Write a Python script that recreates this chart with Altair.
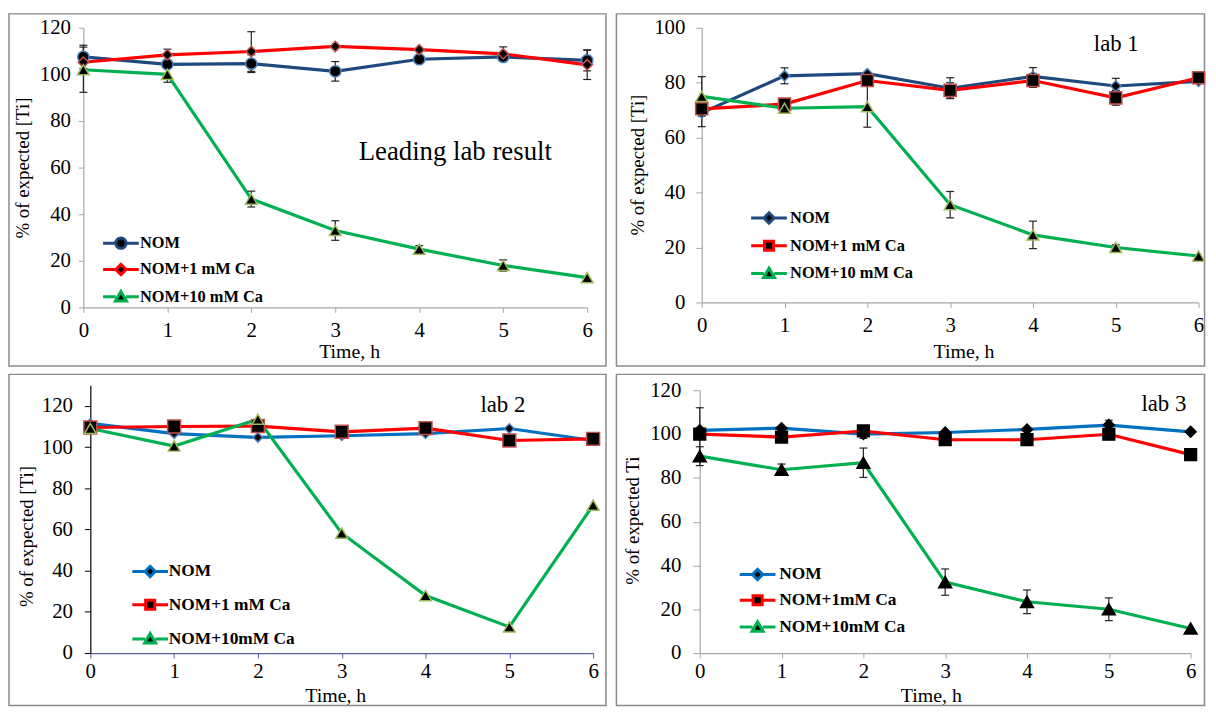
import altair as alt
import pandas as pd

TIME = [0, 1, 2, 3, 4, 5, 6]

# ---- Leading lab result ----
A_LABELS = ["NOM", "NOM+1 mM Ca", "NOM+10 mM Ca"]
A_NOM = [107.5, 104.3, 104.6, 101.3, 106.5, 107.5, 106.0]
A_CA1 = [105.2, 108.4, 109.8, 112.0, 110.6, 108.8, 104.1]
A_CA10 = [102.0, 100.0, 46.5, 33.0, 25.0, 18.0, 12.8]
A_NOM_ERR = [5.0, None, 3.8, 4.2, None, None, 4.5]
A_CA1_ERR = [None, 2.4, 8.5, None, None, 3.0, 6.3]
A_CA10_ERR = [9.7, 3.4, 3.4, 4.2, 1.5, 2.4, None]

# ---- lab 1 ----
B_LABELS = ["NOM", "NOM+1 mM Ca", "NOM+10 mM Ca"]
B_NOM = [69.0, 82.5, 83.3, 78.0, 82.3, 78.8, 80.5]
B_CA1 = [70.5, 72.2, 80.8, 77.2, 80.8, 74.5, 81.8]
B_CA10 = [75.0, 70.7, 71.3, 35.6, 24.6, 20.0, 16.9]
B_NOM_ERR = [5.0, 2.9, None, 3.8, 3.2, 2.8, None]
B_CA1_ERR = [None, None, None, 2.8, 2.5, 2.7, None]
B_CA10_ERR = [7.2, None, 7.5, 4.8, 5.0, 1.0, None]

# ---- lab 2 ----
C_LABELS = ["NOM", "NOM+1 mM Ca", "NOM+10mM Ca"]
C_NOM = [111.5, 106.5, 104.7, 105.5, 106.5, 109.0, 103.2]
C_CA1 = [109.5, 110.0, 110.2, 107.4, 109.2, 103.2, 104.0]
C_CA10 = [109.0, 100.5, 113.5, 58.2, 27.9, 12.7, 71.8]

# ---- lab 3 ----
D_LABELS = ["NOM", "NOM+1mM Ca", "NOM+10mM Ca"]
D_NOM = [101.7, 102.7, 100.0, 100.7, 102.1, 104.1, 101.0]
D_CA1 = [100.0, 98.6, 101.4, 97.4, 97.4, 99.9, 90.6]
D_CA10 = [89.9, 83.7, 86.9, 32.4, 23.4, 20.0, 11.2]
D_NOM_ERR = [None, None, 2.0, None, None, 2.2, None]
D_CA1_ERR = [12.0, None, None, None, None, None, None]
D_CA10_ERR = [4.3, 2.6, 6.7, 6.0, 5.4, 5.2, None]

NAVY, BLUE, RED, GREEN = "#1f497d", "#0070c0", "#ff0000", "#00b050"
OUT_BLUE, OUT_RED, OUT_GREEN = "#4f81bd", "#c0504d", "#9bbb59"
FONT = "Liberation Serif"

# legend glyphs: line stub + marker (unit space)
L = "M-9,0H-2.6M2.6,0H9"
P_CIRCLE = L + "M2.6,0A2.6,2.6,0,1,1,-2.6,0A2.6,2.6,0,1,1,2.6,0Z"
P_DIAMOND = L + "M0,-2.6L2.6,0L0,2.6L-2.6,0Z"
P_SQUARE = L + "M-2.3,-2.3H2.3V2.3H-2.3Z"
P_TRIANGLE = L + "M0,-2.7L2.8,2.1H-2.8Z"


def long_df(labels, series):
    rows = []
    for lab, vals in zip(labels, series):
        for t, v in zip(TIME, vals):
            rows.append({"time": t, "value": v, "series": lab})
    return pd.DataFrame(rows)


def err_df(series, errs):
    rows = []
    for vals, ee in zip(series, errs):
        for t, v, e in zip(TIME, vals, ee):
            if e is not None:
                rows.append({"time": t, "lo": v - e, "hi": v + e})
    return pd.DataFrame(rows, columns=["time", "lo", "hi"])


def panel(p):
    df = long_df(p["labels"], p["series"])
    xs = alt.Scale(domain=[0, 6], nice=False, zero=False, range=[p["x0"], p["w"]])
    ys = alt.Scale(domain=[0, p["ymax"]], nice=False, zero=True, range=[p["h"], p["y0"]])
    xax = alt.Axis(values=TIME, format="d", title="Time, h", grid=False,
                   domainColor=p["xdom"], tickColor=p["xdom"], tickSize=5,
                   domainWidth=1.2, labelPadding=p["xlp"], labelFont=FONT, labelFontSize=21,
                   labelColor="black", titleFont=FONT, titleFontSize=20,
                   titleFontWeight="normal", titleColor="black",
                   titleX=p["xtx"], titleY=p["xty"], titleBaseline="middle",
                   titleAlign="center", labelFlush=False)
    yax = alt.Axis(values=p["yticks"], title=p["ytitle"], grid=False, offset=-p["x0"],
                   domainColor=p["ydom"], tickColor=p["ydom"], tickSize=p["ytick"],
                   domainWidth=1.2, labelPadding=p["ylp"], labelFont=FONT, labelFontSize=21,
                   labelColor="black", titleFont=FONT, titleFontSize=19,
                   titleFontWeight="normal", titleColor="black",
                   titleX=p["ytx"], titleY=p["yty"], titleBaseline="middle",
                   titleAlign="center", titleAngle=270, labelFlush=False)
    X = alt.X("time:Q", scale=xs, axis=xax)
    base = alt.Chart(df).encode(x=X, y=alt.Y("value:Q", scale=ys, axis=yax))

    fx, fx2, fy, fy2 = p["frame"]
    layers = [
        alt.Chart(pd.DataFrame({"k": [0]})).mark_rect(
            fillOpacity=0, stroke="#8a8a8a", strokeWidth=1.5
        ).encode(x=alt.value(fx), x2=alt.value(fx2), y=alt.value(fy), y2=alt.value(fy2))
    ]
    for lab, col in zip(p["labels"], p["lines"]):
        layers.append(base.transform_filter(alt.datum.series == lab)
                      .mark_line(color=col, strokeWidth=3.2))
    if p.get("errs"):
        e = err_df(p["series"], p["errs"])
        eb = alt.Chart(e)
        layers.append(eb.mark_rule(color="#222222", strokeWidth=1.2).encode(
            x=X, y=alt.Y("lo:Q", scale=ys, axis=yax), y2="hi:Q"))
        for f in ["lo", "hi"]:
            layers.append(eb.mark_tick(color="#222222", orient="horizontal", size=8,
                                       thickness=1.2, opacity=1).encode(
                x=X, y=alt.Y(f + ":Q", scale=ys, axis=yax)))
    for lab, shp, sz, out in zip(p["labels"], p["shapes"], p["sizes"], p["outlines"]):
        layers.append(base.transform_filter(alt.datum.series == lab).mark_point(
            shape=shp, size=sz, filled=True, fill="black", stroke=out,
            strokeWidth=1.5, opacity=1))
    leg = alt.Legend(orient="none", legendX=p["lx"], legendY=p["ly"], title=None,
                     direction="vertical", labelFont=FONT, labelFontWeight="bold",
                     labelFontSize=p["lfs"], labelColor="black", symbolSize=16,
                     symbolStrokeWidth=3, symbolOffset=p["so"], labelOffset=p["lo"],
                     rowPadding=p["lrp"], padding=0, symbolOpacity=1)
    layers.append(base.transform_filter("false").mark_point(
        filled=False, fill="black", fillOpacity=1, opacity=1, strokeWidth=3).encode(
        color=alt.Color("series:N", scale=alt.Scale(domain=p["labels"], range=p["lines"]), legend=leg),
        shape=alt.Shape("series:N", scale=alt.Scale(domain=p["labels"], range=p["lshapes"]), legend=leg)))
    tx, ty = p["tpos"]
    layers.append(alt.Chart(pd.DataFrame({"t": [p["text"]]})).mark_text(
        font=FONT, fontSize=p["tfs"], color="black", align="center", baseline="middle"
    ).encode(x=alt.value(tx), y=alt.value(ty), text="t:N"))
    return alt.layer(*layers).properties(width=p["w"], height=p["h"])


GRAY = "#a6a6a6"
PA = dict(labels=A_LABELS, series=[A_NOM, A_CA1, A_CA10], errs=[A_NOM_ERR, A_CA1_ERR, A_CA10_ERR],
          lines=[NAVY, RED, GREEN], outlines=[OUT_BLUE, OUT_RED, OUT_GREEN],
          shapes=["circle", "diamond", "triangle-up"], sizes=[130, 110, 140],
          lshapes=[P_CIRCLE, P_DIAMOND, P_TRIANGLE],
          w=508, h=282, x0=0, y0=0, frame=(-75, 527, -14, 341), ymax=120,
          yticks=[0, 20, 40, 60, 80, 100, 120],
          ytitle="% of expected [Ti]", ytx=-61, yty=141, xtx=268, xty=44, xlp=7,
          xdom=GRAY, ydom=GRAY, ytick=5, ylp=8,
          lx=18, ly=209, lrp=3.5, so=11.6, lo=11, lfs=16.5,
          text="Leading lab result", tpos=(375, 125), tfs=27)
PB = dict(labels=B_LABELS, series=[B_NOM, B_CA1, B_CA10], errs=[B_NOM_ERR, B_CA1_ERR, B_CA10_ERR],
          lines=[NAVY, RED, GREEN], outlines=[OUT_BLUE, OUT_RED, OUT_GREEN],
          shapes=["diamond", "square", "triangle-up"], sizes=[110, 150, 140],
          lshapes=[P_DIAMOND, P_SQUARE, P_TRIANGLE],
          w=501, h=277, x0=0, y0=0, frame=(-86, 507, -14, 341), ymax=100,
          yticks=[0, 20, 40, 60, 80, 100],
          ytitle="% of expected [Ti]", ytx=-65, yty=138, xtx=264, xty=49, xlp=7,
          xdom=GRAY, ydom=GRAY, ytick=6, ylp=11,
          lx=48, ly=183.5, lrp=5, so=11.6, lo=13, lfs=16.5,
          text="lab 1", tpos=(418, 16), tfs=23)
PC = dict(labels=C_LABELS, series=[C_NOM, C_CA1, C_CA10], errs=None,
          lines=[BLUE, RED, GREEN], outlines=[OUT_BLUE, OUT_RED, OUT_GREEN],
          shapes=["diamond", "square", "triangle-up"], sizes=[90, 170, 140],
          lshapes=[P_DIAMOND, P_SQUARE, P_TRIANGLE],
          w=514, h=270, x0=7, y0=0, frame=(-75, 527, -11, 323), ymax=130,
          yticks=[0, 20, 40, 60, 80, 100, 120],
          ytitle="% of expected [Ti]", ytx=-64, yty=152, xtx=254, xty=42.5, xlp=3,
          xdom="#5b5ba8", ydom="black", ytick=6, ylp=12,
          lx=47, ly=179, lrp=11.5, so=11.6, lo=10, lfs=17.5,
          text="lab 2", tpos=(423, 20), tfs=23)
PD = dict(labels=D_LABELS, series=[D_NOM, D_CA1, D_CA10], errs=[D_NOM_ERR, D_CA1_ERR, D_CA10_ERR],
          lines=[BLUE, RED, GREEN], outlines=["black", "black", "black"],
          shapes=["diamond", "square", "triangle-up"], sizes=[120, 140, 170],
          lshapes=[P_DIAMOND, P_SQUARE, P_TRIANGLE],
          w=495, h=270, x0=0, y0=5, frame=(-84, 509, -11, 323), ymax=120,
          yticks=[0, 20, 40, 60, 80, 100, 120],
          ytitle="% of expected Ti", ytx=-68, yty=136, xtx=233, xty=42.5, xlp=3,
          xdom=GRAY, ydom=GRAY, ytick=7, ylp=12,
          lx=38, ly=182, lrp=4, so=11.6, lo=13, lfs=17.5,
          text="lab 3", tpos=(468, 19), tfs=23)

IND = dict(x="independent", y="independent", color="independent", shape="independent")
top = alt.hconcat(panel(PA), panel(PB), spacing=8.5).resolve_scale(**IND)
bottom = alt.hconcat(panel(PC), panel(PD), spacing=8.5).resolve_scale(**IND)
chart = alt.vconcat(top, bottom, spacing=6.5).resolve_scale(**IND).properties(
    padding={"left": 0, "top": 2, "right": 0, "bottom": 0},
    background="white",
).configure_view(stroke=None)

chart.save("out.html", embed_options={"renderer": "svg", "actions": False})
